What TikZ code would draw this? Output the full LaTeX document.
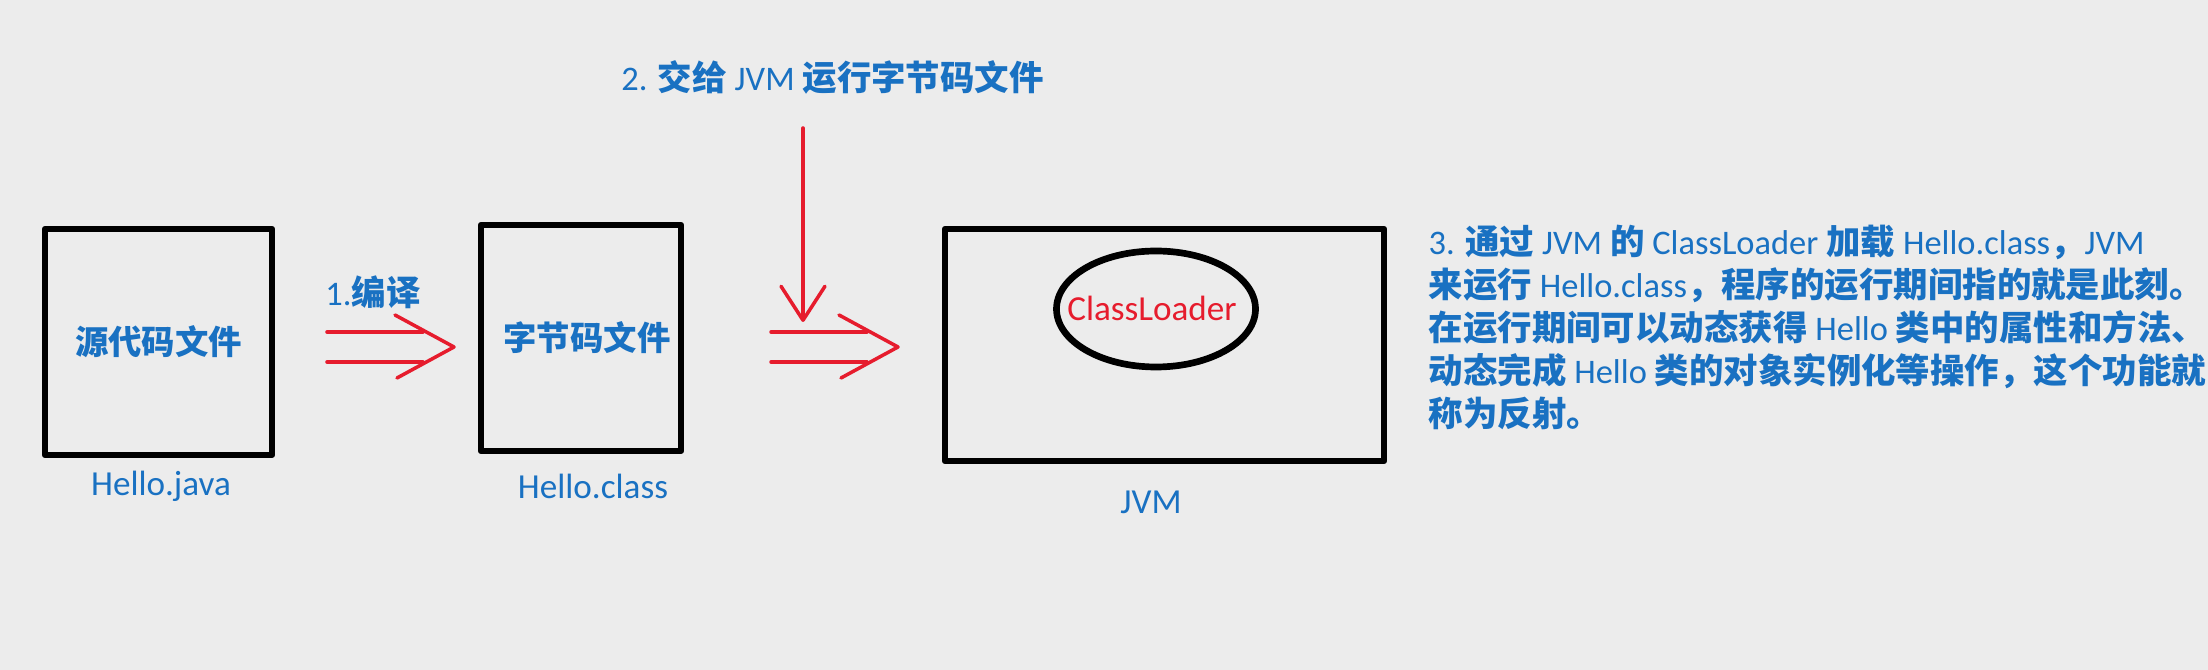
\documentclass[tikz,border=0pt]{standalone}
\usepackage{fontspec}
\setmainfont{Noto Sans CJK SC}
\newfontfamily\hand{Carlito}
\usetikzlibrary{shapes.geometric,arrows.meta}
\definecolor{jbg}{HTML}{ECECEC}
\definecolor{jblue}{HTML}{1971C2}
\definecolor{jred}{HTML}{E61C2D}
\tikzstyle{file} = [draw=black, line width=1.8pt, line join=round, inner sep=0pt, text=jblue, font={\fontsize{9.5}{11}\selectfont\bfseries}]
\tikzstyle{fname} = [text=jblue, font={\hand\fontsize{10}{12}\selectfont}]
\tikzstyle{pass} = [draw=jred, line width=1pt, line cap=round, line join=round]
\tikzstyle{note} = [text=jblue, font={\fontsize{9.8}{12.2}\selectfont\bfseries}, align=left, inner sep=0pt]
\newcommand{\hw}[1]{{\hand\mdseries #1}}
% double arrow whose tip is at #1
\newcommand{\twin}[1]{%
  \draw[pass] ([shift={(-1.27,0.15)}]#1) -- ([shift={(-0.31,0.15)}]#1);
  \draw[pass] ([shift={(-1.27,-0.15)}]#1) -- ([shift={(-0.31,-0.15)}]#1);
  \draw[pass] ([shift={(-0.59,0.32)}]#1) -- (#1) -- ([shift={(-0.57,-0.31)}]#1);}

\begin{document}
\begin{tikzpicture}
    \fill[jbg] (0,0) rectangle (22.08,6.70);
    \node[file, minimum width=2.27cm, minimum height=2.26cm](src) at (1.585,3.28){源代码文件};
    \node[file, minimum width=2.00cm, minimum height=2.26cm](byte) at (5.81,3.32){\hspace{0.12cm}字节码文件};
    \node[file, minimum width=4.39cm, minimum height=2.32cm](jvm) at (11.645,3.25){};
    \node[ellipse, draw=black, line width=1.9pt, minimum width=1.99cm, minimum height=1.16cm, inner sep=0pt](loader) at (11.56,3.61){};
    \node[text=jred, inner sep=0pt, font={\hand\fontsize{10}{12}\selectfont}](loadername) at (11.52,3.62){ClassLoader};
    \node[fname](srcname) at (1.61,1.84){Hello.java};
    \node[fname](bytename) at (5.93,1.84){Hello.class};
    \node[fname](jvmname) at (11.51,1.68){JVM};
    \node[note](step1) at (3.73,3.78){\hw{1.}编译};
    \node[note](step2) at (8.325,5.93){\hw{2.} 交给 \hw{JVM} 运行字节码文件};
    \node[note, anchor=west](step3) at (14.28,3.425){%
      \hw{3.} 通过 \hw{JVM} 的 \hw{ClassLoader} 加载 \hw{Hello.class}，\hw{JVM}\\
      来运行 \hw{Hello.class}，程序的运行期间指的就是此刻。\\
      在运行期间可以动态获得 \hw{Hello} 类中的属性和方法、\\
      动态完成 \hw{Hello} 类的对象实例化等操作，这个功能就\\
      称为反射。};
    \coordinate (tip1) at (4.54,3.23);
    \coordinate (tip2) at (8.98,3.23);
    \coordinate (give) at (8.03,5.42);
    \coordinate (drop) at (8.03,3.48);
    \twin{tip1}
    \twin{tip2}
    \draw[pass,-{Straight Barb[round,length=3.4mm,width=4.4mm]}](give)--(drop);
  \end{tikzpicture}
\end{document}
